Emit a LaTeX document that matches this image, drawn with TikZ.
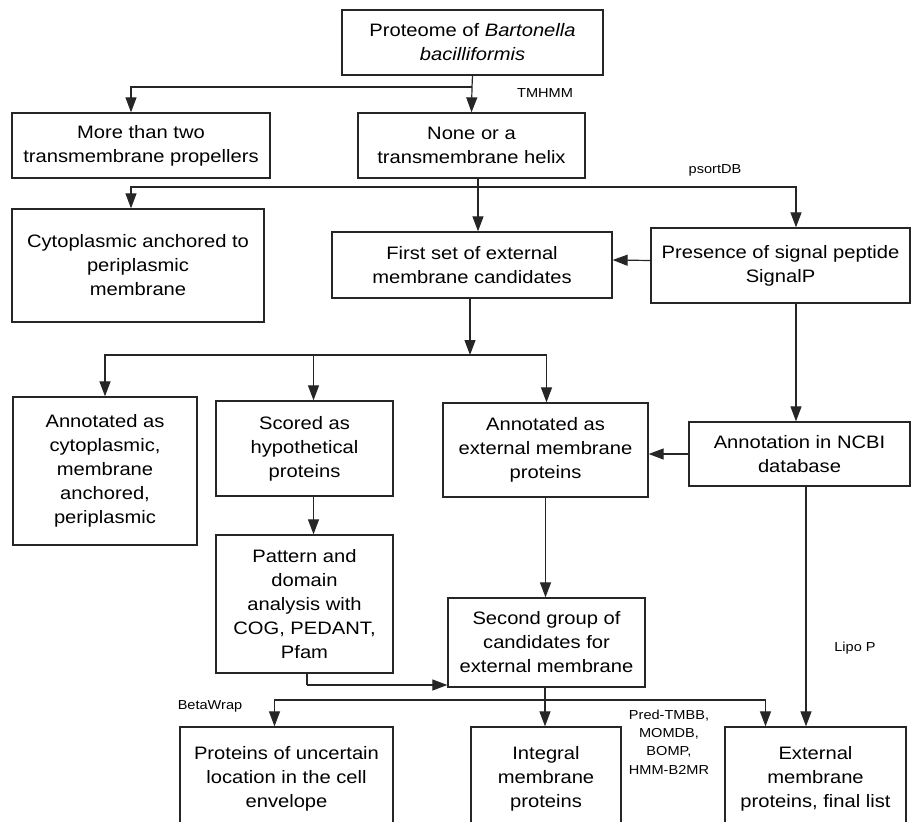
\documentclass[tikz,border=0pt]{standalone}
\usepackage{fontspec}
\setmainfont{Liberation Sans}[FakeStretch=1.12]
\usepackage{tikz}
\usetikzlibrary{arrows.meta}
\tikzstyle{box} = [draw=black!85, line width=1.3pt, inner sep=0pt, align=center, font=\fontsize{18}{24}\selectfont]
\tikzstyle{arrow} = [draw=black!85, line width=1.2pt, -{Triangle[length=15pt,width=11pt]}]
\tikzstyle{line} = [draw=black!85, line width=1.2pt]
\tikzstyle{tag} = [font=\fontsize{13}{18.3}\selectfont, align=center, inner sep=0pt]

\begin{document}
\begin{tikzpicture}[x=1pt, y=-1pt]
        \useasboundingbox (0,0) rectangle (911,822);
        \clip (0,0) rectangle (911,822);
        % Node positions
        \node[box, minimum width=261pt, minimum height=65pt] (proteome) at (472.5,42.5) {Proteome of \textit{Bartonella}\\\textit{bacilliformis}};
        \node[box, minimum width=258pt, minimum height=65pt] (morethan) at (141,145.5) {More than two\\transmembrane propellers};
        \node[box, minimum width=227pt, minimum height=65pt] (noneor) at (471.5,145.5) {None or a\\transmembrane helix};
        \node[box, minimum width=252pt, minimum height=113pt] (cyto) at (138,265.5) {Cytoplasmic anchored to\\periplasmic\\membrane};
        \node[box, minimum width=280pt, minimum height=66pt] (firstset) at (472,265) {First set of external\\membrane candidates};
        \node[box, minimum width=259pt, minimum height=75pt] (presence) at (780.5,265.5) {Presence of signal peptide\\SignalP};
        \node[box, minimum width=184pt, minimum height=148pt] (annocyto) at (105,471) {Annotated as\\cytoplasmic,\\membrane\\anchored,\\periplasmic};
        \node[box, minimum width=177pt, minimum height=95pt] (scored) at (304.5,448.5) {Scored as\\hypothetical\\proteins};
        \node[box, minimum width=205pt, minimum height=94pt] (annoext) at (545.5,450) {Annotated as\\external membrane\\proteins};
        \node[box, minimum width=221pt, minimum height=64pt] (ncbi) at (799.5,454) {Annotation in NCBI\\database};
        \node[box, minimum width=177pt, minimum height=138pt] (pattern) at (304.5,604) {Pattern and\\domain\\analysis with\\COG, PEDANT,\\Pfam};
        \node[box, minimum width=197pt, minimum height=89pt] (second) at (546.5,642.5) {Second group of\\candidates for\\external membrane};
        \node[box, minimum width=213pt, minimum height=103pt] (uncertain) at (286.5,778.5) {Proteins of uncertain\\location in the cell\\envelope};
        \node[box, minimum width=150pt, minimum height=103pt] (integral) at (546,778.5) {Integral\\membrane\\proteins};
        \node[box, minimum width=181pt, minimum height=103pt] (final) at (815.5,778.5) {External\\membrane\\proteins, final list};

        % Tool labels
        \node[tag] (tmhmm) at (545,93) {TMHMM};
        \node[tag] (psort) at (715,170) {psortDB};
        \node[tag] (lipo) at (855,648) {Lipo P};
        \node[tag] (beta) at (210,706) {BetaWrap};
        \node[tag] (pred) at (669,742) {Pred-TMBB,\\MOMDB,\\BOMP,\\HMM-B2MR};

        % Branch points
        \coordinate (s1) at (472,87);
        \coordinate (s2) at (478,187);
        \coordinate (s3) at (470,355);
        \coordinate (s4) at (545,700);
        \coordinate (p1) at (307,685);
        \coordinate (q1) at (796,303);
        \coordinate (q2) at (806,486);

        \draw[line] (proteome.south) -- (s1);
        \draw[arrow] (s1) -- (noneor.north);
        \draw[arrow] (s1) -| ([xshift=-10pt]morethan.north);

        \draw[line] (noneor.south -| s2) -- (s2);
        \draw[arrow] (s2) -- (firstset.north -| s2);
        \draw[arrow] (s2) -| ([xshift=-7pt]cyto.north);
        \draw[arrow] (s2) -| (presence.north -| q1);
        \draw[arrow] ([yshift=5pt]presence.west) -- ([yshift=5pt]firstset.east);

        \draw[arrow] (firstset.south -| s3) -- (s3);
        \draw[arrow] (s3) -| (annocyto.north);
        \draw[arrow] (s3) -| ([xshift=9pt]scored.north);
        \draw[arrow] (s3) -| ([xshift=1pt]annoext.north);

        \draw[arrow] (q1) -- (ncbi.north -| q1);
        \draw[arrow] (ncbi.west) -- (annoext.east |- ncbi.west);

        \draw[arrow] ([xshift=9pt]scored.south) -- ([xshift=9pt]pattern.north);
        \draw[arrow] (annoext.south) -- (second.north -| annoext.south);
        \draw[line] (pattern.south -| p1) -- (p1);
        \draw[arrow] (p1) -- (second.west |- p1);

        \draw[arrow] (q2) -- (final.north -| q2);

        \draw[line] (second.south -| s4) -- (s4);
        \draw[arrow] (s4) -| ([xshift=-12pt]uncertain.north);
        \draw[arrow] (s4) -- (integral.north -| s4);
        \draw[arrow] (s4) -| ([xshift=-50pt]final.north);
\end{tikzpicture}
\end{document}
